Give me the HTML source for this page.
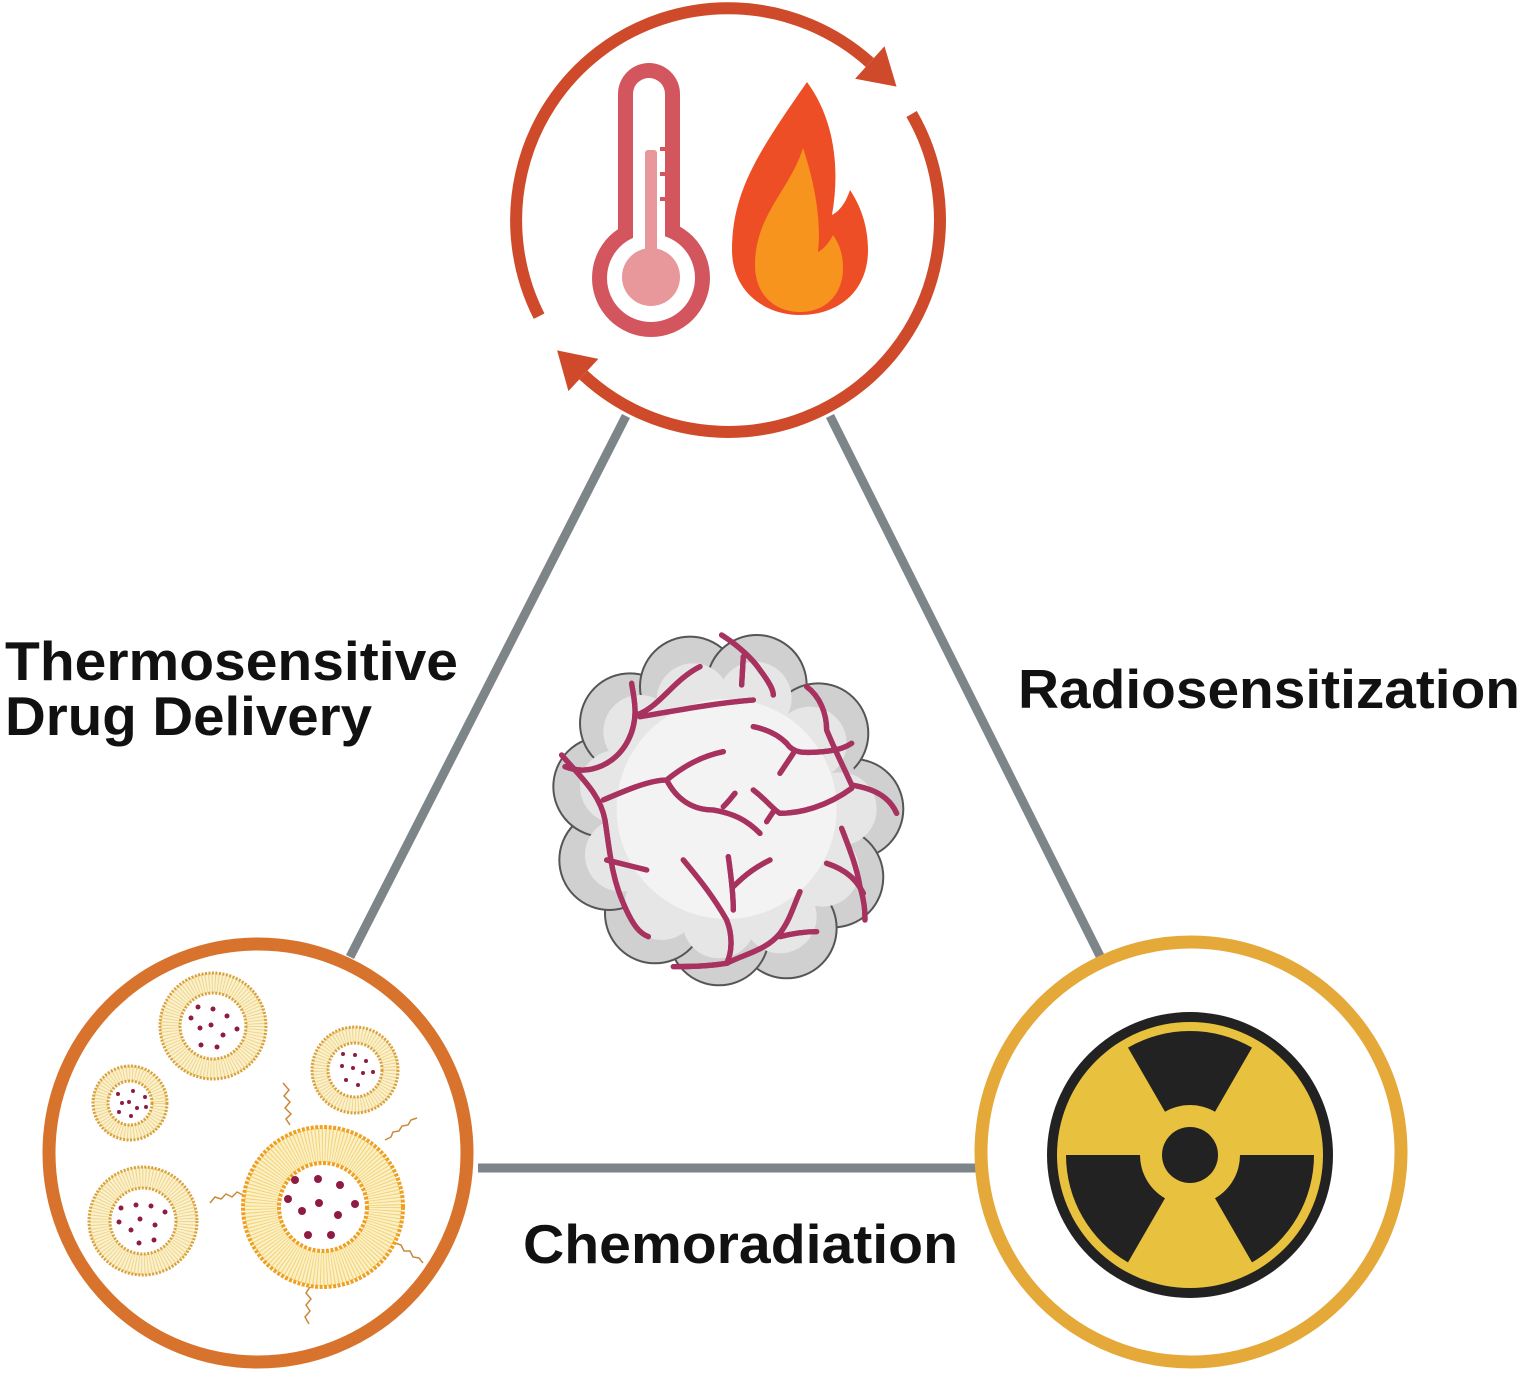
<!DOCTYPE html>
<html><head><meta charset="utf-8"><style>
html,body{margin:0;padding:0;background:#fff;}
svg{display:block;}
text{font-family:"Liberation Sans",Arial,sans-serif;font-weight:bold;fill:#111;}
</style></head><body>
<svg width="1524" height="1375" viewBox="0 0 1524 1375" xmlns="http://www.w3.org/2000/svg">
<!-- connectors -->
<g stroke="#7d8589" stroke-width="9" stroke-linecap="butt">
<line x1="626" y1="416" x2="350" y2="957"/>
<line x1="830" y1="416" x2="1102" y2="960"/>
<line x1="478" y1="1168" x2="980" y2="1168"/>
</g>

<!-- top cycle arcs -->
<g fill="none" stroke="#cf4a2a" stroke-width="12">
<path d="M539.1,316.2 A212,212 0 0 1 869.8,62.5"/>
<path d="M911.6,114 A212,212 0 0 1 583.4,375"/>
</g>
<g fill="#cf4a2a">
<polygon points="884.5,46.2 855.1,78.8 896.5,86.6"/>
<polygon points="568.4,391.1 598.4,358.9 557.1,350.4"/>
</g>
<!-- thermometer -->
<g>
<rect x="618" y="63" width="62" height="200" rx="31" fill="#d3565f"/>
<circle cx="651" cy="278" r="59" fill="#d3565f"/>
<rect x="633" y="78" width="32" height="200" rx="16" fill="#fff"/>
<circle cx="651" cy="278" r="44" fill="#fff"/>
<rect x="645" y="150" width="12" height="120" rx="3" fill="#e8979a"/>
<circle cx="651" cy="277" r="29" fill="#e8979a"/>
<rect x="660" y="147" width="5" height="4" fill="#d3565f"/>
<rect x="660" y="172" width="5" height="4" fill="#d3565f"/>
<rect x="660" y="197" width="5" height="4" fill="#d3565f"/>
</g>
<!-- flame -->
<path fill="#ee4e25" d="M807,82 C760,150 732,190 732,250 C732,290 763,315 800,315 C840,315 868,290 868,250 C868,225 860,205 850,190 C845,205 838,212 832,215 C840,170 835,120 807,82 Z"/>
<path fill="#f7941d" d="M803,148 C790,190 755,215 755,265 C755,295 775,312 800,312 C825,312 843,295 843,268 C843,255 840,245 833,235 C828,245 822,250 818,252 C822,215 812,175 803,148 Z"/>

<!-- tumor -->
<g transform="translate(540,620) scale(0.3333)">
<g fill="#d0d0d0" stroke="#555" stroke-width="6">
<circle cx="940" cy="567" r="150"/>
<circle cx="880" cy="772" r="150"/>
<circle cx="740" cy="925" r="150"/>
<circle cx="537" cy="946" r="150"/>
<circle cx="345" cy="880" r="150"/>
<circle cx="208" cy="720" r="150"/>
<circle cx="190" cy="500" r="150"/>
<circle cx="270" cy="310" r="150"/>
<circle cx="450" cy="200" r="150"/>
<circle cx="650" cy="195" r="150"/>
<circle cx="835" cy="340" r="150"/>
</g>
<circle cx="560" cy="567" r="400" fill="#d0d0d0"/>
<g fill="#e6e6e6">
<circle cx="900" cy="567" r="110"/>
<circle cx="848" cy="750" r="110"/>
<circle cx="720" cy="890" r="110"/>
<circle cx="537" cy="905" r="110"/>
<circle cx="365" cy="850" r="110"/>
<circle cx="245" cy="705" r="110"/>
<circle cx="230" cy="500" r="110"/>
<circle cx="300" cy="335" r="110"/>
<circle cx="460" cy="240" r="110"/>
<circle cx="645" cy="235" r="110"/>
<circle cx="810" cy="370" r="110"/>
</g>
<circle cx="560" cy="567" r="330" fill="#f3f3f3"/>
<g id="ves" fill="none" stroke="#a8325f" stroke-width="16" stroke-linecap="round">
<path d="M65,405 C120,470 180,520 195,600 C210,700 215,770 250,850 C280,920 300,940 325,950"/>
<path d="M75,440 C150,470 230,430 265,360 C300,290 280,230 275,190"/>
<path d="M290,285 C360,260 400,180 480,140"/>
<path d="M545,45 C600,80 640,120 660,150 C690,190 700,210 700,225"/>
<path d="M610,110 L605,195"/>
<path d="M300,290 C420,270 520,250 640,240"/>
<path d="M190,540 C260,510 330,480 380,480 C430,440 480,410 550,395"/>
<path d="M380,480 C410,540 460,570 520,570 C580,580 620,600 660,640"/>
<path d="M550,560 C570,540 580,525 585,520"/>
<path d="M640,320 C690,330 720,350 740,370 C760,400 790,400 850,395 C900,390 920,380 935,370"/>
<path d="M760,400 L720,460"/>
<path d="M800,200 C840,230 860,280 860,330 C880,380 910,440 935,495 C960,500 1040,510 1070,580"/>
<path d="M640,510 C680,540 700,570 720,580 C780,580 860,560 935,505"/>
<path d="M700,575 L680,605"/>
<path d="M200,720 L320,750"/>
<path d="M430,720 C480,780 520,830 560,900 C580,950 575,1000 560,1030 C500,1040 440,1040 400,1040"/>
<path d="M565,710 C575,780 580,830 580,870"/>
<path d="M580,800 C620,760 650,740 690,720"/>
<path d="M560,1030 C620,1000 680,990 720,940 C750,900 760,860 780,815"/>
<path d="M720,950 C760,940 800,935 830,935"/>
<path d="M905,625 C930,690 950,740 960,800 C975,850 975,880 975,900"/>
<path d="M860,730 C920,750 950,780 970,820"/>
</g>
<use href="#ves" stroke="#e07aa0" stroke-width="6"/>
</g>

<!-- bottom-left circle -->
<circle cx="258" cy="1153" r="209" fill="#fff" stroke="#d8732e" stroke-width="13"/>
<g>
<g>
<circle cx="213" cy="1026" r="43" fill="none" stroke="#fbf1cf" stroke-width="20"/>
<circle cx="213" cy="1026" r="43" fill="none" stroke="#efd68a" stroke-width="20" stroke-dasharray="1 2"/>
<circle cx="213" cy="1026" r="53" fill="none" stroke="#d9a03a" stroke-width="3" stroke-dasharray="2 1.5"/>
<circle cx="213" cy="1026" r="33" fill="#fff" stroke="#d9a03a" stroke-width="3" stroke-dasharray="2 1.5"/>
</g>
<g>
<circle cx="130" cy="1103" r="29.5" fill="none" stroke="#fbf1cf" stroke-width="15"/>
<circle cx="130" cy="1103" r="29.5" fill="none" stroke="#efd68a" stroke-width="15" stroke-dasharray="1 2"/>
<circle cx="130" cy="1103" r="37" fill="none" stroke="#d9a03a" stroke-width="3" stroke-dasharray="2 1.5"/>
<circle cx="130" cy="1103" r="22" fill="#fff" stroke="#d9a03a" stroke-width="3" stroke-dasharray="2 1.5"/>
</g>
<g>
<circle cx="355" cy="1070" r="35" fill="none" stroke="#fbf1cf" stroke-width="16"/>
<circle cx="355" cy="1070" r="35" fill="none" stroke="#efd68a" stroke-width="16" stroke-dasharray="1 2"/>
<circle cx="355" cy="1070" r="43" fill="none" stroke="#d9a03a" stroke-width="3" stroke-dasharray="2 1.5"/>
<circle cx="355" cy="1070" r="27" fill="#fff" stroke="#d9a03a" stroke-width="3" stroke-dasharray="2 1.5"/>
</g>
<g>
<circle cx="143" cy="1221" r="43.5" fill="none" stroke="#fbf1cf" stroke-width="21"/>
<circle cx="143" cy="1221" r="43.5" fill="none" stroke="#efd68a" stroke-width="21" stroke-dasharray="1 2"/>
<circle cx="143" cy="1221" r="54" fill="none" stroke="#d9a03a" stroke-width="3" stroke-dasharray="2 1.5"/>
<circle cx="143" cy="1221" r="33" fill="#fff" stroke="#d9a03a" stroke-width="3" stroke-dasharray="2 1.5"/>
</g>
<g fill="none" stroke="#c88a3a" stroke-width="1.5">
<path d="M290,1125 l-4,-6 l5,-5 l-6,-6 l5,-6 l-6,-6 l5,-6 l-6,-7"/>
<path d="M385,1140 l6,-3 l2,-5 l6,-1 l3,-5 l6,-1 l3,-5 l6,-2"/>
<path d="M243,1195 l-6,-3 l-5,5 l-6,-3 l-5,5 l-6,-2 l-5,6"/>
<path d="M395,1243 l6,2 l3,6 l6,0 l3,6 l6,1 l4,5"/>
<path d="M310,1287 l-4,6 l5,6 l-5,6 l4,6 l-5,6 l4,7"/>
</g>
<g>
<circle cx="323" cy="1207" r="62" fill="none" stroke="#fcf0c6" stroke-width="34"/>
<circle cx="323" cy="1207" r="62" fill="none" stroke="#f2d47a" stroke-width="34" stroke-dasharray="1 2"/>
<circle cx="323" cy="1207" r="80" fill="none" stroke="#f0a020" stroke-width="4" stroke-dasharray="3 1.5"/>
<circle cx="323" cy="1207" r="44" fill="#fff" stroke="#f0a020" stroke-width="4" stroke-dasharray="3 1.5"/>
</g>
<g fill="#8e1c42">
<circle cx="198" cy="1007" r="2.5"/><circle cx="213" cy="1009" r="2.5"/><circle cx="227" cy="1016" r="2.5"/>
<circle cx="191" cy="1018" r="2.5"/><circle cx="211" cy="1025" r="2.5"/><circle cx="200" cy="1028" r="2.5"/>
<circle cx="237" cy="1029" r="2.5"/><circle cx="223" cy="1035" r="2.5"/><circle cx="201" cy="1045" r="2.5"/><circle cx="217" cy="1047" r="2.5"/>
<circle cx="118" cy="1094" r="2"/><circle cx="133" cy="1091" r="2"/><circle cx="145" cy="1097" r="2"/>
<circle cx="122" cy="1103" r="2"/><circle cx="129" cy="1102" r="2"/><circle cx="137" cy="1108" r="2"/>
<circle cx="146" cy="1107" r="2"/><circle cx="119" cy="1112" r="2"/><circle cx="131" cy="1116" r="2"/>
<circle cx="343" cy="1054" r="2"/><circle cx="355" cy="1055" r="2"/><circle cx="366" cy="1061" r="2"/>
<circle cx="342" cy="1066" r="2"/><circle cx="353" cy="1068" r="2"/><circle cx="363" cy="1073" r="2"/>
<circle cx="373" cy="1072" r="2"/><circle cx="346" cy="1080" r="2"/><circle cx="358" cy="1085" r="2"/>
<circle cx="121" cy="1208" r="2.5"/><circle cx="136" cy="1205" r="2.5"/><circle cx="151" cy="1206" r="2.5"/>
<circle cx="165" cy="1212" r="2.5"/><circle cx="119" cy="1222" r="2.5"/><circle cx="140" cy="1219" r="2.5"/>
<circle cx="155" cy="1225" r="2.5"/><circle cx="131" cy="1230" r="2.5"/><circle cx="139" cy="1243" r="2.5"/><circle cx="154" cy="1240" r="2.5"/>
<circle cx="295" cy="1180" r="4"/><circle cx="318" cy="1179" r="4"/><circle cx="340" cy="1185" r="4"/>
<circle cx="288" cy="1199" r="4"/><circle cx="319" cy="1203" r="4"/><circle cx="355" cy="1204" r="4"/>
<circle cx="302" cy="1211" r="4"/><circle cx="338" cy="1215" r="4"/><circle cx="308" cy="1235" r="4"/><circle cx="331" cy="1235" r="4"/>
</g>
</g>

<!-- bottom-right circle -->
<circle cx="1191" cy="1152" r="210" fill="#fff" stroke="#e5a93a" stroke-width="13"/>
<circle cx="1190" cy="1155" r="143" fill="#222"/>
<circle cx="1190" cy="1155" r="133" fill="#e8c13e"/>
<g fill="#222">
<path d="M1128,1047.6 A124,124 0 0 1 1252,1047.6 L1215,1111.7 A50,50 0 0 0 1165,1111.7 Z"/>
<path d="M1314,1155 A124,124 0 0 1 1252,1262.4 L1215,1198.3 A50,50 0 0 0 1240,1155 Z"/>
<path d="M1128,1262.4 A124,124 0 0 1 1066,1155 L1140,1155 A50,50 0 0 0 1165,1198.3 Z"/>
<circle cx="1190" cy="1155" r="28"/>
</g>

<!-- labels -->
<text x="5" y="680" font-size="55" textLength="453" lengthAdjust="spacingAndGlyphs">Thermosensitive</text>
<text x="5" y="735" font-size="55" textLength="367" lengthAdjust="spacingAndGlyphs">Drug Delivery</text>
<text x="1018" y="708" font-size="55" textLength="502" lengthAdjust="spacingAndGlyphs">Radiosensitization</text>
<text x="523" y="1263" font-size="55" textLength="435" lengthAdjust="spacingAndGlyphs">Chemoradiation</text>
</svg>
</body></html>
